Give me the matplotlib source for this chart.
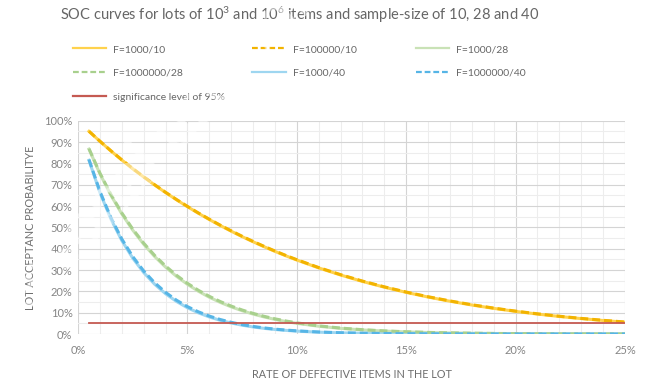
import numpy as np
import matplotlib
matplotlib.use('Agg')
import matplotlib.pyplot as plt
from matplotlib.ticker import MultipleLocator, PercentFormatter

plt.rcParams['font.family'] = ['Lato', 'DejaVu Sans']
plt.rcParams['mathtext.fontset'] = 'custom'
plt.rcParams['mathtext.rm'] = 'Lato'
plt.rcParams['mathtext.it'] = 'Lato'

# defect rate in the lot (%)
rate = [0.5, 1.0, 1.5, 2.0, 2.5, 3.0, 3.5, 4.0, 4.5, 5.0,
        5.5, 6.0, 6.5, 7.0, 7.5, 8.0, 8.5, 9.0, 9.5, 10.0,
        11, 12, 13, 14, 15, 16, 17, 18, 19, 20, 21, 22, 23, 24, 25]

# acceptance probability (%) for lot of 1000 items
f1000_10 = [95.09, 90.40, 85.91, 81.63, 77.54, 73.64, 69.92, 66.36, 62.97, 59.73,
            56.64, 53.71, 50.90, 48.24, 45.68, 43.27, 40.97, 38.77, 36.68, 34.70,
            31.01, 27.68, 24.67, 21.97, 19.53, 17.34, 15.38, 13.60, 12.03, 10.62,
            9.36, 8.23, 7.23, 6.34, 5.55]
f1000_28 = [86.74, 75.18, 65.12, 56.36, 48.74, 42.12, 36.37, 31.39, 27.06, 23.32,
            20.06, 17.25, 14.83, 12.74, 10.93, 9.36, 8.02, 6.87, 5.87, 5.01,
            3.65, 2.65, 1.92, 1.38, 0.99, 0.71, 0.50, 0.36, 0.25, 0.17,
            0.13, 0.09, 0.06, 0.04, 0.03]
f1000_40 = [81.50, 66.36, 53.97, 43.85, 35.59, 28.85, 23.37, 18.90, 15.27, 12.32,
            9.94, 8.00, 6.43, 5.17, 4.14, 3.32, 2.66, 2.13, 1.70, 1.35,
            0.86, 0.54, 0.34, 0.21, 0.13, 0.08, 0.05, 0.03, 0.02, 0.01,
            0.01, 0.0, 0.0, 0.0, 0.0]

# acceptance probability (%) for very large lots
f100000_10 = [95.11, 90.44, 85.97, 81.71, 77.63, 73.74, 70.03, 66.48, 63.10, 59.87,
              56.79, 53.86, 51.06, 48.40, 45.85, 43.44, 41.14, 38.94, 36.85, 34.87,
              31.18, 27.85, 24.84, 22.13, 19.69, 17.49, 15.52, 13.74, 12.16, 10.74,
              9.47, 8.34, 7.33, 6.43, 5.63]
f1000000_28 = [86.91, 75.47, 65.50, 56.80, 49.22, 42.62, 36.88, 31.89, 27.55, 23.79,
               20.51, 17.68, 15.23, 13.11, 11.27, 9.68, 8.31, 7.13, 6.11, 5.23,
               3.83, 2.79, 2.03, 1.47, 1.06, 0.76, 0.54, 0.39, 0.27, 0.19,
               0.14, 0.10, 0.07, 0.05, 0.03]
f1000000_40 = [81.83, 66.90, 54.63, 44.57, 36.32, 29.57, 24.05, 19.54, 15.85, 12.85,
               10.41, 8.42, 6.80, 5.49, 4.42, 3.56, 2.86, 2.30, 1.85, 1.48,
               0.95, 0.60, 0.38, 0.24, 0.15, 0.09, 0.06, 0.04, 0.02, 0.01,
               0.01, 0.0, 0.0, 0.0, 0.0]

significance = [5.0, 5.0]
significance_rate = [0.5, 25]

gold, gold_dash = '#FFD24D', '#F2B300'
green, green_dash = '#C9E2B6', '#A8D08D'
blue, blue_dash = '#9ED6F0', '#56B5E6'
red = '#C55A52'

fig = plt.figure(figsize=(6.45, 3.8), dpi=100)
ax = fig.add_axes([0.121, 0.121, 0.848, 0.561])

lw = 2.2
dash = (0, (2.6, 1.3))
l1, = ax.plot(rate, f1000_10, color=gold, lw=lw, zorder=3)
l2, = ax.plot(rate, f100000_10, color=gold_dash, lw=lw, ls=dash, zorder=4)
l3, = ax.plot(rate, f1000_28, color=green, lw=lw, zorder=3)
l4, = ax.plot(rate, f1000000_28, color=green_dash, lw=lw, ls=dash, zorder=4)
l5, = ax.plot(rate, f1000_40, color=blue, lw=lw, zorder=3)
l6, = ax.plot(rate, f1000000_40, color=blue_dash, lw=lw, ls=dash, zorder=4)
l7, = ax.plot(significance_rate, significance, color=red, lw=1.3, zorder=5)

ax.set_xlim(0, 25)
ax.set_ylim(0, 100)
ax.xaxis.set_major_locator(MultipleLocator(5))
ax.xaxis.set_minor_locator(MultipleLocator(1))
ax.yaxis.set_major_locator(MultipleLocator(10))
ax.yaxis.set_minor_locator(MultipleLocator(5))
ax.xaxis.set_major_formatter(PercentFormatter(decimals=0))
ax.yaxis.set_major_formatter(PercentFormatter(decimals=0))
ax.grid(which='major', color='#D4D4D4', lw=0.8)
ax.grid(which='minor', color='#EDEDED', lw=0.8)
ax.set_axisbelow(True)
for s in ax.spines.values():
    s.set_visible(False)
ax.tick_params(which='both', length=0, labelsize=8, labelcolor='#858585')
ax.tick_params(axis='x', pad=8)
ax.tick_params(axis='y', pad=4)

ax.set_xlabel('RATE OF DEFECTIVE ITEMS IN THE LOT', fontsize=7.8, color='#6E6E6E', labelpad=9)
ax.set_ylabel('LOT ACCEPTANC PROBABILITYE', fontsize=7.8, color='#6E6E6E', labelpad=6)

fig.text(0.093, 0.96, 'SOC curves for lots of 10$^3$ and 10$^6$ items and sample-size of 10, 28 and 40',
         fontsize=10.5, color='#666666', ha='left', va='center')

# legend drawn as three columns, filled row by row
cols = [([l1, l4, l7], ['F=1000/10', 'F=1000000/28', 'significance level of 95%'], 0.106),
        ([l2, l5], ['F=100000/10', 'F=1000/40'], 0.385),
        ([l3, l6], ['F=1000/28', 'F=1000000/40'], 0.638)]
for handles, labels, x0 in cols:
    leg = fig.legend(handles, labels, loc='upper left', bbox_to_anchor=(x0, 0.893),
                     frameon=False, fontsize=7.5, handlelength=3.2, handletextpad=0.7,
                     labelspacing=1.4, borderaxespad=0, labelcolor='#666666')
    for h in leg.get_lines():
        h.set_linewidth(1.6)

# overlay text across the upper-left corner
fig.text(0.24, 0.6, 'Personal use only', fontsize=46, color='white', alpha=0.5,
         rotation=47, ha='center', va='center', zorder=10)

fig.savefig('out.png', dpi=100)
